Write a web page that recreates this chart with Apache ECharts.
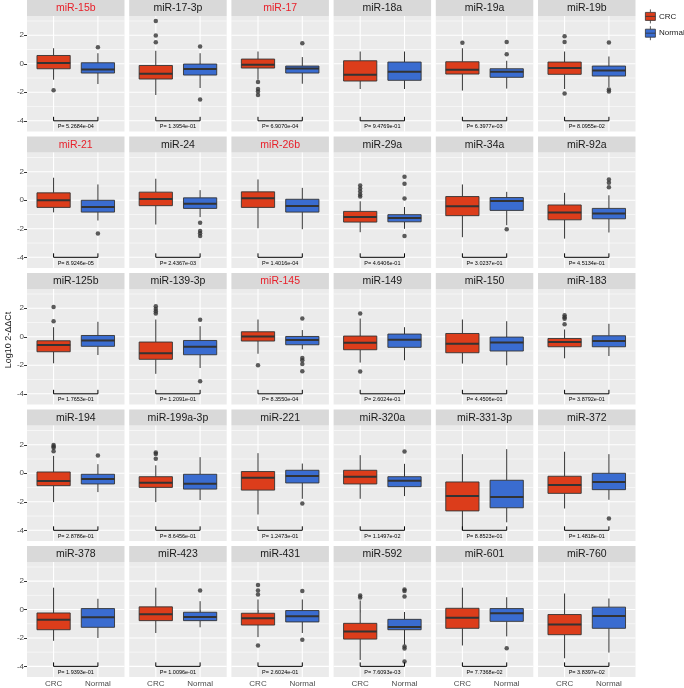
<!DOCTYPE html>
<html>
<head>
<meta charset="utf-8">
<script src="https://cdn.jsdelivr.net/npm/echarts@6/dist/echarts.min.js"></script>
<style>html,body{margin:0;padding:0;background:#fff}#c{width:684px;height:688px}</style>
</head>
<body>
<div id="c"></div>
<script>
const panelNames = ['miR-15b','miR-17-3p','miR-17','miR-18a','miR-19a','miR-19b',
  'miR-21','miR-24','miR-26b','miR-29a','miR-34a','miR-92a',
  'miR-125b','miR-139-3p','miR-145','miR-149','miR-150','miR-183',
  'miR-194','miR-199a-3p','miR-221','miR-320a','miR-331-3p','miR-372',
  'miR-378','miR-423','miR-431','miR-592','miR-601','miR-760'];
const sigPanels = ['miR-15b','miR-17','miR-21','miR-26b','miR-145'];
const pValues = ['5.2684e-04','1.3954e-01','6.9070e-04','9.4769e-01','6.3977e-03','8.0955e-02',
  '8.9246e-05','2.4367e-03','1.4016e-04','4.6406e-01','3.0237e-01','4.5134e-01',
  '1.7653e-01','1.2091e-01','8.3550e-04','2.6024e-01','4.4506e-01','3.8792e-01',
  '2.8786e-01','8.6456e-01','1.2473e-01','1.1497e-02','8.8523e-01','1.4818e-01',
  '1.9393e-01','1.0096e-01','2.6024e-01','7.6093e-03','7.7368e-02','3.8397e-02'];
// [lower whisker, Q1, median, Q3, upper whisker]
const crcStats = [
  [-1.12,-0.35,0.05,0.58,1.09],[-2.19,-1.07,-0.70,-0.12,0.91],[-1.12,-0.30,-0.07,0.33,0.86],
  [-1.77,-1.21,-0.77,0.21,0.86],[-1.88,-0.72,-0.42,0.14,1.09],[-1.77,-0.74,-0.30,0.12,0.86],
  [-0.85,-0.50,0.00,0.52,1.58],[-1.70,-0.38,0.09,0.57,1.51],[-1.96,-0.50,0.14,0.59,1.46],
  [-2.24,-1.53,-1.17,-0.78,-0.07],[-2.59,-1.08,-0.42,0.26,1.11],[-2.69,-1.37,-0.85,-0.33,0.52],
  [-1.86,-1.05,-0.58,-0.28,0.67],[-2.60,-1.58,-1.16,-0.37,1.21],[-1.19,-0.30,0.02,0.35,1.21],
  [-1.81,-0.91,-0.42,0.05,1.28],[-1.88,-1.12,-0.49,0.23,1.21],[-1.51,-0.70,-0.37,-0.12,0.51],
  [-2.02,-0.87,-0.54,0.09,1.22],[-2.02,-0.99,-0.66,-0.24,0.56],[-2.89,-1.18,-0.31,0.12,1.41],
  [-1.79,-0.75,-0.24,0.21,1.27],[-4.00,-2.64,-1.60,-0.61,1.34],[-2.47,-1.41,-0.82,-0.21,1.51],
  [-2.20,-1.42,-0.71,-0.24,1.54],[-1.65,-0.78,-0.33,0.19,1.54],[-1.94,-1.09,-0.61,-0.26,0.71],
  [-3.55,-2.08,-1.54,-0.97,0.64],[-2.53,-1.32,-0.57,0.09,1.54],[-3.43,-1.77,-1.06,-0.35,1.13]];
const normalStats = [
  [-1.42,-0.65,-0.40,0.07,0.74],[-1.70,-0.79,-0.37,-0.02,0.74],[-1.40,-0.65,-0.33,-0.16,0.47],
  [-1.77,-1.16,-0.56,0.12,0.86],[-1.74,-0.95,-0.56,-0.35,0.21],[-1.63,-0.86,-0.47,-0.16,0.51],
  [-1.42,-0.83,-0.47,0.00,1.11],[-1.18,-0.57,-0.24,0.17,0.71],[-2.03,-0.83,-0.40,0.07,0.87],
  [-2.00,-1.51,-1.25,-1.01,-0.47],[-1.75,-0.71,-0.05,0.19,0.59],[-2.26,-1.30,-0.92,-0.57,0.35],
  [-1.28,-0.67,-0.26,0.09,1.05],[-2.19,-1.26,-0.70,-0.26,0.74],[-0.88,-0.56,-0.23,0.02,0.47],
  [-1.65,-0.74,-0.21,0.19,0.67],[-2.00,-1.00,-0.40,-0.02,1.09],[-1.35,-0.70,-0.30,0.07,0.91],
  [-1.32,-0.75,-0.40,-0.07,0.64],[-1.88,-1.11,-0.73,-0.07,1.13],[-1.79,-0.68,-0.19,0.21,0.68],
  [-1.60,-0.94,-0.52,-0.24,0.66],[-3.44,-2.42,-1.67,-0.49,1.69],[-1.86,-1.15,-0.61,0.00,1.34],
  [-2.00,-1.25,-0.54,0.07,0.76],[-1.25,-0.78,-0.52,-0.19,0.59],[-1.65,-0.87,-0.47,-0.07,0.71],
  [-2.48,-1.42,-1.23,-0.69,-0.17],[-1.89,-0.83,-0.26,0.07,0.87],[-3.03,-1.32,-0.45,0.17,0.78]];
const crcOutliers = [
  [-1.86],[3.0,1.98,1.51],[-1.28,-1.77,-1.95,-2.19],[],[1.47],[1.93,1.53,-2.09],
  [],[],[],[1.04,0.83,0.62,0.40,0.26],[],[],
  [2.09,1.09],[2.14,1.95,1.79,1.63],[-2.0],[1.63,-2.44],[],[1.51,1.37,1.26,0.88],
  [1.98,1.88,1.79,1.55],[1.45,1.35,1.01],[],[],[],[],
  [],[],[1.73,1.35,1.06,-2.53],[0.99,0.85],[],[]];
const normalOutliers = [
  [1.16],[1.21,-2.51],[1.44],[],[1.53,0.67],[1.49,-1.81,-1.95],
  [-2.33],[-1.58,-2.15,-2.32,-2.50],[],[1.65,1.16,0.12,-2.5],[-2.03],[1.46,1.23,0.92],
  [],[1.19,-3.12],[1.28,-1.49,-1.65,-1.91,-2.42],[],[],[],
  [1.25],[],[-2.12],[1.53],[],[-3.18],
  [],[1.35],[1.30,-2.13],[1.42,1.30,0.92,-2.6,-2.75,-3.66],[-2.72],[]];
const groupNames = ['CRC','Normal'];
const yTickValues = [-4,-2,0,2];
const yMinorValues = [-3,-1,1,3];
const xTickValues = [1,2];

const COLORS = {CRC:'#DC3D1B', Normal:'#3A6CD0'};
const FONT = 'Liberation Sans, Arial, Helvetica, sans-serif';
const NCOL = 6;
const LEFT0 = 27, COLP = 102.2, PW = 97.5;
const TOP0 = 16, ROWP = 136.5, PH = 115.5, STRIPH = 16;
const YMIN = -4.75, YMAX = 3.35, XMIN = 0.4, XMAX = 2.6;
const BOX_ICON = 'path://M5,0L5,3M0,3L10,3L10,11L0,11ZM5,11L5,14M0,7L10,7';

const grids = [], xAxes = [], yAxes = [], series = [], graphics = [];

function renderGridLines(params, api) {
  const ch = [];
  const a = api.coord([XMIN, 0])[0], b = api.coord([XMAX, 0])[0];
  const yt = api.coord([0, YMAX])[1], yb = api.coord([0, YMIN])[1];
  yMinorValues.forEach(v => { const y = api.coord([0, v])[1];
    ch.push({type:'line', shape:{x1:a,y1:y,x2:b,y2:y}, style:{stroke:'#FFFFFF', lineWidth:0.55}}); });
  yTickValues.forEach(v => { const y = api.coord([0, v])[1];
    ch.push({type:'line', shape:{x1:a,y1:y,x2:b,y2:y}, style:{stroke:'#FFFFFF', lineWidth:1.1}}); });
  xTickValues.forEach(v => { const x = api.coord([v, 0])[0];
    ch.push({type:'line', shape:{x1:x,y1:yt,x2:x,y2:yb}, style:{stroke:'#FFFFFF', lineWidth:1.1}}); });
  return {type:'group', children:ch, silent:true};
}

function renderBox(params, api) {
  const x = api.value(0);
  const lo = api.coord([x, api.value(1)]);
  const q1 = api.coord([x, api.value(2)]);
  const md = api.coord([x, api.value(3)]);
  const q3 = api.coord([x, api.value(4)]);
  const hi = api.coord([x, api.value(5)]);
  const l = api.coord([x - 0.375, 0])[0];
  const r = api.coord([x + 0.375, 0])[0];
  const fill = api.visual('color');
  return {type:'group', children:[
    {type:'line', shape:{x1:lo[0],y1:lo[1],x2:q1[0],y2:q1[1]}, style:{stroke:'#333333',lineWidth:1}},
    {type:'line', shape:{x1:q3[0],y1:q3[1],x2:hi[0],y2:hi[1]}, style:{stroke:'#333333',lineWidth:1}},
    {type:'rect', shape:{x:l,y:q3[1],width:r-l,height:q1[1]-q3[1]}, style:{fill:fill, stroke:'#333333', lineWidth:0.9}},
    {type:'line', shape:{x1:l,y1:md[1],x2:r,y2:md[1]}, style:{stroke:'#333333', lineWidth:2}}
  ]};
}

function renderBracket(params, api) {
  const x1 = api.value(0), x2 = api.value(1), y = api.value(2);
  const p1 = api.coord([x1, y + 0.28]), p2 = api.coord([x1, y]);
  const p3 = api.coord([x2, y]), p4 = api.coord([x2, y + 0.28]);
  const t = api.coord([(x1 + x2) / 2, y - 0.43]);
  return {type:'group', children:[
    {type:'polyline', shape:{points:[p1,p2,p3,p4]}, style:{stroke:'#000000', lineWidth:1, fill:null}},
    {type:'text', x:t[0], y:t[1], style:{text:'P= ' + pValues[api.value(3)],
      fill:'#000000', fontSize:5.5, fontFamily:FONT, align:'center', verticalAlign:'middle'}}
  ]};
}

panelNames.forEach((name, i) => {
  const r = Math.floor(i / NCOL), c = i % NCOL;
  const left = LEFT0 + c * COLP, top = TOP0 + r * ROWP;
  const lastRow = r === 4, firstCol = c === 0;
  grids.push({left:left, top:top, width:PW, height:PH, show:true, backgroundColor:'#EBEBEB', borderWidth:0, containLabel:false});
  xAxes.push({type:'value', gridIndex:i, min:XMIN, max:XMAX,
    axisLine:{show:false}, splitLine:{show:false},
    axisTick:{show:lastRow, customValues:xTickValues, length:3, lineStyle:{color:'#333333'}},
    axisLabel:{show:lastRow, customValues:xTickValues, formatter: v => groupNames[Math.round(v) - 1],
      color:'#4D4D4D', fontSize:8, margin:3, fontFamily:FONT}});
  yAxes.push({type:'value', gridIndex:i, min:YMIN, max:YMAX,
    axisLine:{show:false}, splitLine:{show:false},
    axisTick:{show:firstCol, customValues:yTickValues, length:3, lineStyle:{color:'#333333'}},
    axisLabel:{show:firstCol, customValues:yTickValues, color:'#4D4D4D', fontSize:8, margin:3, fontFamily:FONT}});
  series.push({type:'custom', name:'grid' + i, xAxisIndex:i, yAxisIndex:i, silent:true, z:1,
    renderItem:renderGridLines, data:[[1, 0]], clip:false});
  series.push({type:'custom', name:'CRC', xAxisIndex:i, yAxisIndex:i, z:3,
    itemStyle:{color:COLORS.CRC, borderColor:'#333333', borderWidth:0.8},
    encode:{x:0, y:[1,2,3,4,5]}, renderItem:renderBox, data:[[1].concat(crcStats[i])]});
  series.push({type:'custom', name:'Normal', xAxisIndex:i, yAxisIndex:i, z:3,
    itemStyle:{color:COLORS.Normal, borderColor:'#333333', borderWidth:0.8},
    encode:{x:0, y:[1,2,3,4,5]}, renderItem:renderBox, data:[[2].concat(normalStats[i])]});
  series.push({type:'scatter', name:'CRC outliers', xAxisIndex:i, yAxisIndex:i, z:4, symbolSize:4.5,
    itemStyle:{color:'#333333'}, data:crcOutliers[i].map(v => [1, v])});
  series.push({type:'scatter', name:'Normal outliers', xAxisIndex:i, yAxisIndex:i, z:4, symbolSize:4.5,
    itemStyle:{color:'#333333'}, data:normalOutliers[i].map(v => [2, v])});
  series.push({type:'custom', name:'bracket' + i, xAxisIndex:i, yAxisIndex:i, z:5, silent:true, clip:false,
    renderItem:renderBracket, data:[[1, 2, -4, i]]});
  graphics.push({type:'rect', left:left, top:top - STRIPH, shape:{width:PW, height:STRIPH},
    style:{fill:'#D9D9D9'}, silent:true});
  graphics.push({type:'text', x:left + PW / 2, y:top - STRIPH / 2 + 0.5,
    style:{text:name, fill: sigPanels.includes(name) ? '#E8202A' : '#1A1A1A', fontSize:10.5, fontFamily:FONT,
      align:'center', verticalAlign:'middle'}, silent:true});
});

graphics.push({type:'text', x:9, y:340, rotation:Math.PI / 2,
  style:{text:'Log10 2-ΔΔCt', fill:'#1A1A1A', fontSize:9, fontFamily:FONT, align:'center', verticalAlign:'middle'}});

const chart = echarts.init(document.getElementById('c'), null, {renderer:'canvas'});
chart.setOption({
  animation:false,
  backgroundColor:'#FFFFFF',
  grid:grids, xAxis:xAxes, yAxis:yAxes, series:series, graphic:graphics,
  legend:{orient:'vertical', left:640, top:4, itemWidth:11, itemHeight:14, itemGap:2,
    textStyle:{fontSize:8, color:'#1A1A1A', fontFamily:FONT, padding:[0,0,0,-2]},
    data:[{name:'CRC', icon:BOX_ICON, itemStyle:{color:COLORS.CRC, borderColor:'#333333', borderWidth:0.8}},
          {name:'Normal', icon:BOX_ICON, itemStyle:{color:COLORS.Normal, borderColor:'#333333', borderWidth:0.8}}]}
});
</script>
</body>
</html>
